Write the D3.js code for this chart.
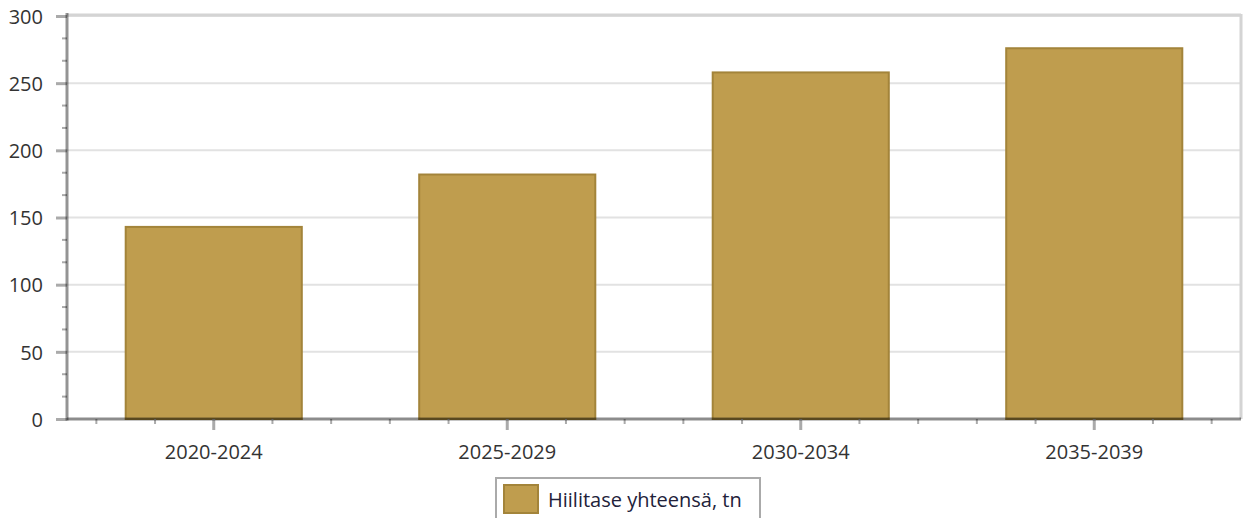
<!DOCTYPE html>
<html>
<head>
<meta charset="utf-8">
<script src="https://cdn.jsdelivr.net/npm/d3@7.9.0/dist/d3.min.js"></script>
<style>
  body { margin: 0; background: #fff; }
  svg { display: block; }
  svg text { font-family: "Open Sans", "Noto Sans", sans-serif; }
</style>
</head>
<body>
<svg width="1243" height="518"></svg>
<script>
// chart data
const categories = ['2020-2024', '2025-2029', '2030-2034', '2035-2039'];
const values = [143, 182, 258, 276];
const yTicks = [0, 50, 100, 150, 200, 250, 300];
const seriesName = 'Hiilitase yhteensä, tn';

const svg = d3.select('svg');
const plotLeft = 67, plotRight = 1241, plotTop = 16, plotBottom = 419;

let x = d3.scaleBand().domain(categories).range([plotLeft, plotRight]).paddingInner(0).paddingOuter(0);
let y = d3.scaleLinear().domain([0, 300]).range([plotBottom, plotTop]);

// grid lines
svg.append('g').selectAll('line')
  .data(yTicks.slice(1))
  .join('line')
  .attr('x1', plotLeft).attr('x2', plotRight)
  .attr('y1', d => y(d)).attr('y2', d => y(d))
  .attr('stroke', '#e2e2e2').attr('stroke-width', 2);

// plot border top + right
svg.append('line').attr('x1', plotLeft).attr('x2', plotRight).attr('y1', plotTop - 1).attr('y2', plotTop - 1)
  .attr('stroke', '#d4d4d4').attr('stroke-width', 3);
svg.append('line').attr('x1', plotRight).attr('x2', plotRight).attr('y1', plotTop - 2).attr('y2', plotBottom)
  .attr('stroke', '#d4d4d4').attr('stroke-width', 3);

// bars
const barW = x.bandwidth() * 0.6;
svg.append('g').selectAll('rect')
  .data(values)
  .join('rect')
  .attr('x', (d, i) => x(categories[i]) + (x.bandwidth() - barW) / 2)
  .attr('y', d => y(d))
  .attr('width', barW)
  .attr('height', d => plotBottom - y(d))
  .attr('fill', '#bf9d4e')
  .attr('stroke', '#a3843a')
  .attr('stroke-width', 2);

// y axis
const yAxis = d3.axisLeft(y).tickValues(yTicks).tickSize(11).tickPadding(13).tickFormat(d3.format('d'));
const gy = svg.append('g').attr('transform', `translate(${plotLeft},0)`).call(yAxis);
gy.attr('font-family', null);
gy.select('.domain').remove();
gy.selectAll('.tick line').attr('stroke', '#aaa').attr('stroke-width', 3);
gy.selectAll('.tick text').attr('font-size', 20).attr('fill', '#333').attr('dy', '0.36em');

// y minor ticks
const yMinor = d3.range(0, 300, 50 / 3).filter((d, i) => i % 3 !== 0);
svg.append('g').selectAll('line')
  .data(yMinor)
  .join('line')
  .attr('x1', plotLeft - 5).attr('x2', plotLeft)
  .attr('y1', d => y(d)).attr('y2', d => y(d))
  .attr('stroke', '#aaa').attr('stroke-width', 2);

// x axis
const xAxis = d3.axisBottom(x).tickSize(11);
const gx = svg.append('g').attr('transform', `translate(0,${plotBottom})`).call(xAxis);
gx.attr('font-family', null);
gx.select('.domain').remove();
gx.selectAll('.tick line').attr('stroke', '#aaa').attr('stroke-width', 3);
gx.selectAll('.tick text').attr('font-size', 20).attr('fill', '#333').attr('dy', null).attr('y', 40);

// x minor ticks
const xMinor = [];
categories.forEach(c => [0.1, 0.3, 0.7, 0.9].forEach(f => xMinor.push(x(c) + f * x.bandwidth())));
svg.append('g').selectAll('line')
  .data(xMinor)
  .join('line')
  .attr('x1', d => d).attr('x2', d => d)
  .attr('y1', plotBottom).attr('y2', plotBottom + 5)
  .attr('stroke', '#aaa').attr('stroke-width', 2);

// axis lines (semi-transparent so they darken over the bars)
svg.append('line').attr('x1', plotLeft).attr('x2', plotRight).attr('y1', plotBottom).attr('y2', plotBottom)
  .attr('stroke', '#000').attr('stroke-opacity', 0.45).attr('stroke-width', 3);
svg.append('line').attr('x1', plotLeft).attr('x2', plotLeft).attr('y1', plotTop - 3).attr('y2', plotBottom + 1.5)
  .attr('stroke', '#000').attr('stroke-opacity', 0.42).attr('stroke-width', 3);

// legend
const lg = svg.append('g');
lg.append('rect').attr('x', 496).attr('y', 478).attr('width', 264).attr('height', 50)
  .attr('fill', '#fff').attr('stroke', '#aaa').attr('stroke-width', 2);
lg.append('rect').attr('x', 504).attr('y', 485).attr('width', 34).attr('height', 28)
  .attr('fill', '#bf9d4e').attr('stroke', '#a3843a').attr('stroke-width', 2);
lg.append('text').attr('x', 548).attr('y', 507).attr('font-size', 20).attr('fill', '#22223a')
  .text(seriesName);
</script>
</body>
</html>
